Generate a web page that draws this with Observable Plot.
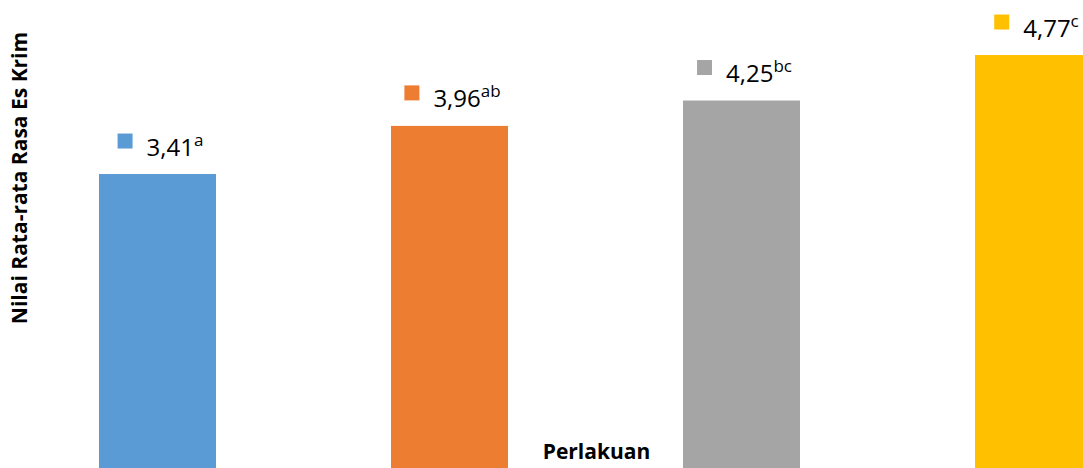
<!DOCTYPE html>
<html><head><meta charset="utf-8">
<script src="https://cdn.jsdelivr.net/npm/d3@7"></script>
<script src="https://cdn.jsdelivr.net/npm/@observablehq/plot@0.6"></script>
<style>html,body{margin:0;padding:0;background:#fff;overflow:hidden;width:1083px;height:468px}</style>
</head><body><div id="chart"></div>
<script>
const categories = ["P1", "P2", "P3", "P4"];
const values = [3.41, 3.96, 4.25, 4.77];
const notations = ["a", "ab", "bc", "c"];
const colors = ["#5B9BD5", "#ED7D31", "#A5A5A5", "#FFC000"];
const yTitle = "Nilai Rata-rata Rasa Es Krim";
const xTitle = "Perlakuan";

const data = categories.map((c, i) => ({cat: c, value: values[i], note: notations[i], color: colors[i]}));
const fmt = v => d3.format(".2f")(v).replace(".", ",");

const W = 1083, H = 468;
const plot = Plot.plot({
  width: W, height: H, margin: 0,
  style: {fontFamily: "'Open Sans', sans-serif", background: "#fff", color: "#000", overflow: "hidden"},
  x: {type: "band", domain: categories, range: [10.25, 1180.75], paddingInner: 0.6, paddingOuter: 0.3, axis: null},
  y: {domain: [0, 5], range: [472.4, 34.9], axis: null},
  color: {type: "identity"},
  marks: [
    Plot.barY(data, {x: "cat", y: "value", fill: "color"}),
    Plot.dot(data, {x: "cat", y: "value", symbol: "square", r: 8.46, fill: "color", stroke: null, dy: -33.5, className: "vsq"}),
    Plot.text(data, {x: "cat", y: "value", text: d => fmt(d.value), dy: -19, lineAnchor: "bottom", textAnchor: "start", fontSize: 24, fill: "#000", className: "vlab"}),
    Plot.text([yTitle], {frameAnchor: "left", text: d => d, rotate: -90, dx: 20, dy: -56.5, textAnchor: "middle", lineAnchor: "middle", fontSize: 21, fontWeight: "bold", fill: "#000"}),
    Plot.text([xTitle], {frameAnchor: "bottom", text: d => d, dx: 54.5, dy: -10, textAnchor: "middle", lineAnchor: "bottom", fontSize: 21, fontWeight: "bold", fill: "#000"})
  ]
});
document.getElementById("chart").append(plot);

// superscripts + centring of "square + label" over each bar
const svg = d3.select(plot);
const labNodes = svg.selectAll("g.vlab text").nodes();
const sqNodes = svg.selectAll("g.vsq path").nodes();
labNodes.forEach((el, k) => {
  const i = typeof el.__data__ === "number" ? el.__data__ : k;
  const t = d3.select(el);
  const txt = t.text();
  t.text(null);
  t.append("tspan").text(txt);
  t.append("tspan").attr("dy", -10).attr("font-size", 17).text(notations[i]);
  const w = el.getComputedTextLength();
  const total = 15 + 14 + w;
  const left = 2.5 - total / 2;
  const sText = left + 29;
  const sSq = left + 7.5;
  if (el.getAttribute("transform")) el.setAttribute("transform", el.getAttribute("transform") + ` translate(${sText},0)`);
  else el.setAttribute("x", (+el.getAttribute("x") || 0) + sText);
  const sq = sqNodes[k];
  if (sq) sq.setAttribute("transform", (sq.getAttribute("transform") || "") + ` translate(${sSq},0)`);
});
</script>
</body></html>
